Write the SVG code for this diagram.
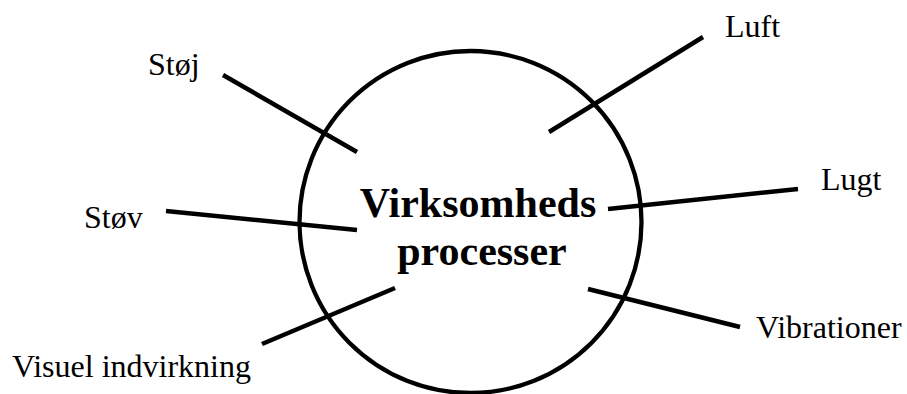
<svg xmlns="http://www.w3.org/2000/svg" width="907" height="394" viewBox="0 0 907 394">
<style>
.lbl{font-family:"Liberation Serif","Times New Roman",serif;font-size:32px;fill:#000}
.ttl{font-family:"Liberation Serif","Times New Roman",serif;font-size:42px;font-weight:bold;fill:#000;text-anchor:middle}
.ln{stroke:#000;stroke-width:4.5;fill:none}
</style>
<rect width="907" height="394" fill="#fff"/>
<g id="process">
<circle cx="470.5" cy="222" r="171" fill="none" stroke="#000" stroke-width="4.3"/>
<text class="ttl" x="478" y="217">Virksomheds</text>
<text class="ttl" x="482" y="265">processer</text>
</g>
<g id="connectors">
<line class="ln" x1="223" y1="75" x2="357" y2="152"/>
<line class="ln" x1="166" y1="211" x2="357" y2="230"/>
<line class="ln" x1="262" y1="344" x2="395" y2="288"/>
<line class="ln" x1="703" y1="37" x2="549" y2="132"/>
<line class="ln" x1="798" y1="189" x2="608" y2="209"/>
<line class="ln" x1="588" y1="289" x2="740" y2="327"/>
</g>
<g id="stoj"><text class="lbl" x="148" y="75">Støj</text></g>
<g id="stov"><text class="lbl" x="84" y="228">Støv</text></g>
<g id="visuel"><text class="lbl" x="12" y="377">Visuel indvirkning</text></g>
<g id="luft"><text class="lbl" x="725" y="37">Luft</text></g>
<g id="lugt"><text class="lbl" x="821" y="190">Lugt</text></g>
<g id="vibrationer"><text class="lbl" x="756" y="338">Vibrationer</text></g>
</svg>
